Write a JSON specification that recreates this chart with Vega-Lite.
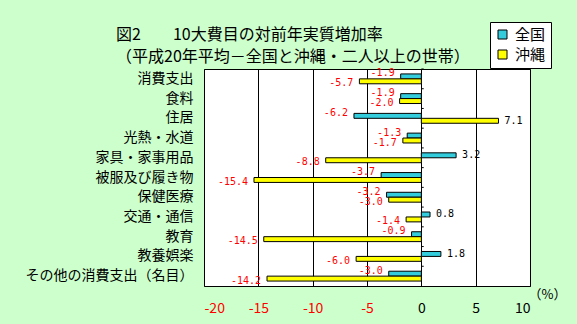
{
  "$schema": "https://vega.github.io/schema/vega-lite/v6.json",
  "autosize": {"type": "none"},
  "width": 326,
  "height": 217,
  "padding": {"left": 204, "top": 69, "right": 47, "bottom": 38},
  "background": "#CCFFCC",
  "config": {
    "font": "Noto Sans CJK JP",
    "view": {"stroke": "black", "strokeWidth": 1, "fill": "white"},
    "locale": {"number": {"decimal": ".", "thousands": ",", "grouping": [3], "currency": ["", ""], "minus": "-"}}
  },
  "title": {
    "text": ["図2　　10大費目の対前年実質増加率", "（平成20年平均－全国と沖縄・二人以上の世帯）"],
    "anchor": "start",
    "frame": "group",
    "dx": -88,
    "offset": -43,
    "fontSize": 16,
    "fontWeight": "normal",
    "lineHeight": 22,
    "color": "black",
    "font": "Noto Sans CJK JP"
  },
  "data": {
    "values": [
      {"cat": "消費支出", "series": "全国", "value": -1.9},
      {"cat": "消費支出", "series": "沖縄", "value": -5.7},
      {"cat": "食料", "series": "全国", "value": -1.9},
      {"cat": "食料", "series": "沖縄", "value": -2.0},
      {"cat": "住居", "series": "全国", "value": -6.2},
      {"cat": "住居", "series": "沖縄", "value": 7.1},
      {"cat": "光熱・水道", "series": "全国", "value": -1.3},
      {"cat": "光熱・水道", "series": "沖縄", "value": -1.7},
      {"cat": "家具・家事用品", "series": "全国", "value": 3.2},
      {"cat": "家具・家事用品", "series": "沖縄", "value": -8.8},
      {"cat": "被服及び履き物", "series": "全国", "value": -3.7},
      {"cat": "被服及び履き物", "series": "沖縄", "value": -15.4},
      {"cat": "保健医療", "series": "全国", "value": -3.2},
      {"cat": "保健医療", "series": "沖縄", "value": -3.0},
      {"cat": "交通・通信", "series": "全国", "value": 0.8},
      {"cat": "交通・通信", "series": "沖縄", "value": -1.4},
      {"cat": "教育", "series": "全国", "value": -0.9},
      {"cat": "教育", "series": "沖縄", "value": -14.5},
      {"cat": "教養娯楽", "series": "全国", "value": 1.8},
      {"cat": "教養娯楽", "series": "沖縄", "value": -6.0},
      {"cat": "その他の消費支出（名目）", "series": "全国", "value": -3.0},
      {"cat": "その他の消費支出（名目）", "series": "沖縄", "value": -14.2}
    ]
  },
  "encoding": {
    "y": {
      "field": "cat",
      "type": "nominal",
      "sort": ["消費支出", "食料", "住居", "光熱・水道", "家具・家事用品", "被服及び履き物", "保健医療", "交通・通信", "教育", "教養娯楽", "その他の消費支出（名目）"],
      "scale": {"paddingInner": 0, "paddingOuter": 0},
      "axis": {
        "title": null,
        "ticks": false,
        "domain": false,
        "labelFontSize": 14,
        "labelPadding": 11,
        "labelLimit": 300,
        "labelColor": "black",
        "labelFont": "Noto Sans CJK JP"
      }
    }
  },
  "layer": [
    {
      "mark": {"type": "bar", "stroke": "black", "strokeWidth": 1},
      "encoding": {
        "x": {
          "field": "value",
          "type": "quantitative",
          "scale": {"domain": [-20, 10], "nice": false},
          "axis": {
            "values": [-20, -15, -10, -5, 0, 5, 10],
            "grid": true,
            "gridColor": "black",
            "gridOpacity": 1,
            "gridWidth": 1,
            "ticks": false,
            "domain": false,
            "labelFontSize": 14,
            "labelPadding": 15,
            "labelFont": "Noto Sans CJK JP",
            "labelColor": {"condition": {"test": "datum.value < 0", "value": "#FF0000"}, "value": "black"},
            "format": "d",
            "title": "（%）",
            "titleFontSize": 13,
            "titleFontWeight": "normal",
            "titleX": 343,
            "titleY": 8,
            "titleAlign": "center",
            "titleBaseline": "middle",
            "titleColor": "black"
          }
        },
        "yOffset": {
          "field": "series",
          "type": "nominal",
          "scale": {"domain": ["全国", "沖縄"], "paddingInner": 0, "paddingOuter": 1}
        },
        "color": {
          "field": "series",
          "type": "nominal",
          "scale": {"domain": ["全国", "沖縄"], "range": ["#33CCDD", "#FFFF00"]},
          "legend": {
            "orient": "none",
            "legendX": 286,
            "legendY": -47,
            "title": null,
            "fillColor": "white",
            "strokeColor": "black",
            "padding": 5,
            "symbolType": "square",
            "symbolSize": 81,
            "symbolStrokeColor": "black",
            "symbolStrokeWidth": 1,
            "labelFontSize": 15,
            "labelFont": "Noto Sans CJK JP",
            "labelColor": "black",
            "labelOffset": 5,
            "rowPadding": 4
          }
        }
      }
    },
    {
      "transform": [{"filter": "datum.series == '全国'"}],
      "mark": {"type": "rule", "color": "black", "strokeWidth": 1},
      "encoding": {
        "y": {"field": "cat", "type": "nominal", "bandPosition": 0, "sort": ["消費支出", "食料", "住居", "光熱・水道", "家具・家事用品", "被服及び履き物", "保健医療", "交通・通信", "教育", "教養娯楽", "その他の消費支出（名目）"]},
        "x": {"datum": 0, "type": "quantitative"},
        "x2": {"datum": 0.22}
      }
    },
    {
      "transform": [{"filter": "datum.value < 0 && datum.series == '全国'"}],
      "mark": {"type": "text", "align": "right", "baseline": "middle", "dx": -6, "dy": -3, "font": "DejaVu Sans Mono", "fontSize": 10, "color": "#FF0000"},
      "encoding": {
        "x": {"field": "value", "type": "quantitative"},
        "yOffset": {"field": "series", "type": "nominal", "scale": {"domain": ["全国", "沖縄"], "paddingInner": 0, "paddingOuter": 1}},
        "text": {"field": "value", "type": "quantitative", "format": ".1f"}
      }
    },
    {
      "transform": [{"filter": "datum.value < 0 && datum.series == '沖縄'"}],
      "mark": {"type": "text", "align": "right", "baseline": "middle", "dx": -6, "dy": 2, "font": "DejaVu Sans Mono", "fontSize": 10, "color": "#FF0000"},
      "encoding": {
        "x": {"field": "value", "type": "quantitative"},
        "yOffset": {"field": "series", "type": "nominal", "scale": {"domain": ["全国", "沖縄"], "paddingInner": 0, "paddingOuter": 1}},
        "text": {"field": "value", "type": "quantitative", "format": ".1f"}
      }
    },
    {
      "transform": [{"filter": "datum.value >= 0"}],
      "mark": {"type": "text", "align": "left", "baseline": "middle", "dx": 6, "font": "DejaVu Sans Mono", "fontSize": 10, "color": "black"},
      "encoding": {
        "x": {"field": "value", "type": "quantitative"},
        "yOffset": {"field": "series", "type": "nominal", "scale": {"domain": ["全国", "沖縄"], "paddingInner": 0, "paddingOuter": 1}},
        "text": {"field": "value", "type": "quantitative", "format": ".1f"}
      }
    }
  ]
}
